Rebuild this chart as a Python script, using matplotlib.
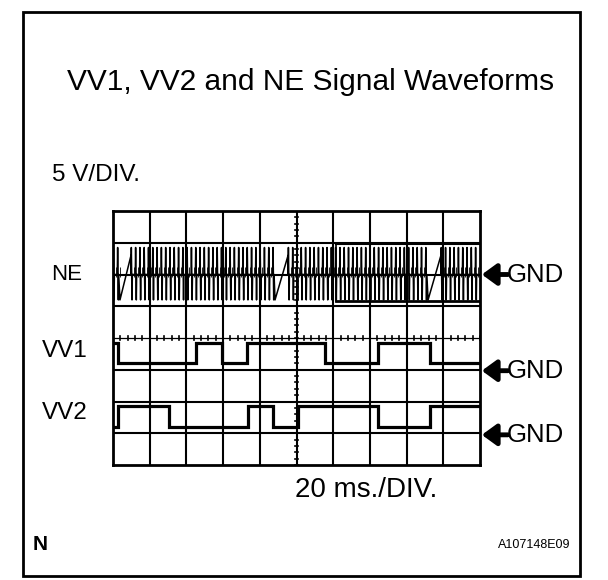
import matplotlib
matplotlib.use('Agg')
import matplotlib.pyplot as plt
from matplotlib.patches import Rectangle
import numpy as np

plt.rcParams['font.family'] = ['Liberation Sans', 'DejaVu Sans']

W, H = 608, 580
TITLE = "VV1, VV2 and NE Signal Waveforms"
VOLT_SCALE = "5 V/DIV."
TIME_SCALE = "20 ms./DIV."
FIG_ID = "A107148E09"
CORNER = "N"

MS_PER_DIV = 20
N_XDIV = 10
N_YDIV = 8

CHANNELS = ["NE", "VV1", "VV2"]
CHANNEL_LABEL_DIV = [6.0, 3.6, 1.65]
GND_DIV = [6.0, 2.97, 0.95]

# VV1 / VV2 square waves: transition times (ms), states, levels (div)
VV1_EDGES_MS = [0, 2.7, 45.2, 59.4, 73.0, 115.5, 144.4, 172.8, 200]
VV1_STATES = [1, 0, 1, 0, 1, 0, 1, 0]
VV1_HIGH, VV1_LOW = 3.84, 3.2
VV2_EDGES_MS = [0, 2.7, 30.5, 73.6, 87.2, 100.8, 144.4, 172.8, 200]
VV2_STATES = [0, 1, 0, 1, 0, 1, 0, 1]
VV2_HIGH, VV2_LOW = 1.86, 1.2

# NE crank signal: missing-tooth gaps (ms), tooth period, levels (div)
NE_GAP_START_MS = [3.8, 88.3, 171.7]
NE_GAP_END_MS = [9.8, 95.4, 178.7]
NE_TOOTH_MS = 2.34
NE_HIGH, NE_LOW, NE_MID = 6.85, 5.2, 6.0
NE_STUB_LOW, NE_STUB_HIGH = 5.92, 6.25
NE_RAMP_END = 6.6
NE_ENVELOPE_START_MS = 121.5
NE_ENV_HIGH, NE_ENV_LOW = 6.96, 5.17

fig = plt.figure(figsize=(W / 100, H / 100), dpi=100)

# overlay in pixel coordinates for frame and text
ov = fig.add_axes([0, 0, 1, 1])
ov.set_xlim(0, W)
ov.set_ylim(H, 0)
ov.axis('off')
ov.add_patch(Rectangle((23, 12), 557, 564, fill=False, lw=2.0, ec='black'))
ov.text(311, 82, TITLE, ha='center', va='center', fontsize=21.5)
ov.text(52, 175, VOLT_SCALE, ha='left', va='center', fontsize=17.5)
ov.text(366, 490, TIME_SCALE, ha='center', va='center', fontsize=20)
ov.text(33, 544, CORNER, ha='left', va='center', fontsize=15, fontweight='bold')
ov.text(570, 545, FIG_ID, ha='right', va='center', fontsize=9)

# scope axes
x0, x1, y0, y1 = 113, 480, 211, 465
ax = fig.add_axes([x0 / W, 1 - y1 / H, (x1 - x0) / W, (y1 - y0) / H])
ax.set_xlim(0, N_XDIV * MS_PER_DIV)
ax.set_ylim(0, N_YDIV)
ax.set_xticks([])
ax.set_yticks([])
for s in ax.spines.values():
    s.set_linewidth(2.0)

for i in range(1, N_XDIV):
    ax.axvline(i * MS_PER_DIV, color='black', lw=1.5, zorder=1)
for j in range(1, N_YDIV):
    ax.axhline(j, color='black', lw=0.9 if j == N_YDIV // 2 else 1.5, zorder=1)

# centre graticule ticks
cx = N_XDIV * MS_PER_DIV / 2
cy = N_YDIV / 2
for t in np.arange(0, N_XDIV + 0.001, 0.2):
    ax.plot([t * MS_PER_DIV] * 2, [cy - 0.06, cy + 0.06], color='black', lw=1.2, zorder=1)
for t in np.arange(0, N_YDIV + 0.001, 0.2):
    ax.plot([cx - 1.0, cx + 1.0], [t, t], color='black', lw=1.2, zorder=1)


def square(edges, states, hi, lo):
    xs, ys = [], []
    for k, st in enumerate(states):
        lvl = hi if st else lo
        xs += [edges[k], edges[k + 1]]
        ys += [lvl, lvl]
    return xs, ys

xs, ys = square(VV1_EDGES_MS, VV1_STATES, VV1_HIGH, VV1_LOW)
ax.plot(xs, ys, color='black', lw=2.3, solid_joinstyle='miter', zorder=3)
xs, ys = square(VV2_EDGES_MS, VV2_STATES, VV2_HIGH, VV2_LOW)
ax.plot(xs, ys, color='black', lw=2.3, solid_joinstyle='miter', zorder=3)

# NE trace
seg_starts = [0] + NE_GAP_END_MS
seg_ends = NE_GAP_START_MS + [N_XDIV * MS_PER_DIV]
nx, ny = [], []
stubs_x = []
for k, (a, b) in enumerate(zip(seg_starts, seg_ends)):
    t = a
    T = NE_TOOTH_MS
    while t + T * 0.3 <= b:
        pts = [(t, NE_MID), (t + 0.08 * T, NE_HIGH), (t + 0.24 * T, NE_LOW),
               (t + 0.32 * T, NE_MID), (t + T, NE_MID)]
        for p in pts:
            if p[0] <= b:
                nx.append(p[0]); ny.append(p[1])
        if t + 0.62 * T <= b:
            stubs_x.append(t + 0.62 * T)
        t += T
    if k < len(NE_GAP_START_MS):
        nx += [NE_GAP_START_MS[k], NE_GAP_END_MS[k]]
        ny += [NE_LOW, NE_RAMP_END]
ax.plot(nx, ny, color='black', lw=1.1, zorder=2)
ax.vlines(stubs_x, NE_STUB_LOW, NE_STUB_HIGH, color='black', lw=0.6, zorder=2)
ax.plot([NE_ENVELOPE_START_MS, 200], [NE_ENV_HIGH] * 2, color='black', lw=1.5, zorder=2)
ax.plot([NE_ENVELOPE_START_MS, 200], [NE_ENV_LOW] * 2, color='black', lw=2.0, zorder=2)
ax.plot([NE_ENVELOPE_START_MS] * 2, [NE_ENV_LOW, NE_ENV_HIGH], color='black', lw=1.2, zorder=2)

# channel labels and GND markers
lab_x = [82, 88, 88]
lab_size = [16, 17.5, 17.5]
for name, ly, lx, fs in zip(CHANNELS, CHANNEL_LABEL_DIV, lab_x, lab_size):
    ax.annotate(name, xy=(0, ly), xycoords=('axes fraction', 'data'),
                xytext=(lx - x0, 0), textcoords='offset pixels',
                ha='right', va='center', fontsize=fs, annotation_clip=False)
for g in GND_DIV:
    ax.annotate('', xy=(1.005, g), xycoords=('axes fraction', 'data'),
                xytext=(26, 0), textcoords='offset pixels',
                arrowprops=dict(arrowstyle='-|>,head_length=0.55,head_width=0.4',
                                lw=3.5, color='black', shrinkA=0, shrinkB=0,
                                mutation_scale=16),
                annotation_clip=False)
    ax.annotate('GND', xy=(1.0, g), xycoords=('axes fraction', 'data'),
                xytext=(27, 0), textcoords='offset pixels',
                ha='left', va='center', fontsize=18.5, annotation_clip=False)

fig.savefig('out.png', dpi=100)
